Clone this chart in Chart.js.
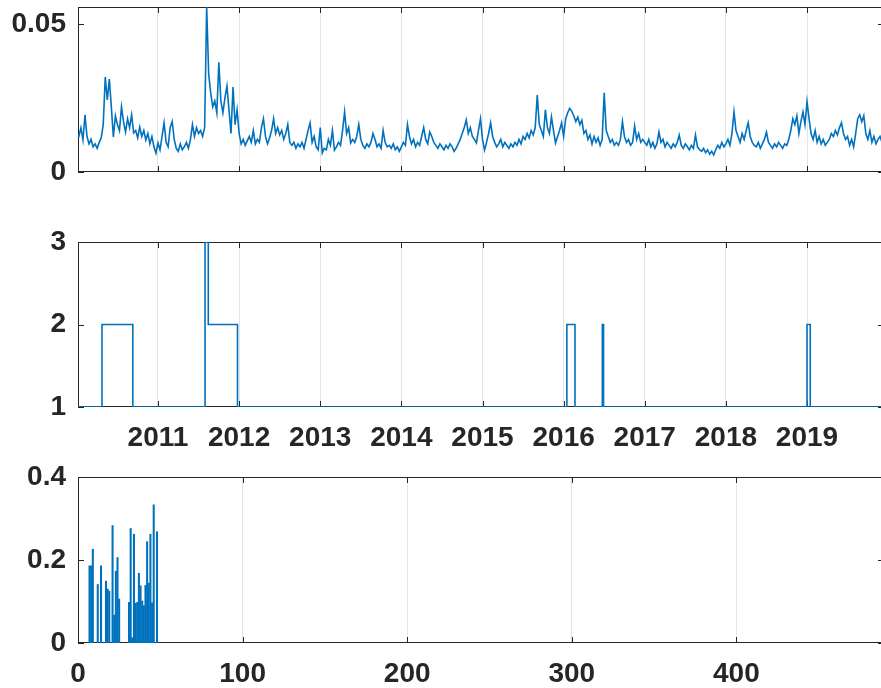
<!DOCTYPE html>
<html>
<head>
<meta charset="utf-8">
<script src="https://cdn.jsdelivr.net/npm/chart.js@4.4.1/dist/chart.umd.min.js"></script>
<style>
  html, body { margin: 0; padding: 0; background: #fff; }
  #wrap { position: relative; width: 881px; height: 688px; overflow: hidden; }
  canvas { position: absolute; left: 0; }
</style>
</head>
<body>
<div id="wrap">
  <canvas id="volChart" width="884" height="190" style="top:0px"></canvas>
  <canvas id="regimeChart" width="884" height="270" style="top:190px"></canvas>
  <canvas id="lagChart" width="884" height="233" style="top:455px"></canvas>
</div>
<script>
// Top panel: one value every 0.025 year
const volStart = 2010.0;
const volStep = 0.025;
const vol2010 = [0.0125,0.0120,0.0149,0.0108,0.0193,0.0120,0.0095,0.0110,0.0085,0.0095,
                 0.0080,0.0100,0.0115,0.0160,0.0321,0.0243,0.0314,0.0220,0.0118,0.0190,
                 0.0160,0.0140,0.0220,0.0170,0.0135,0.0180,0.0150,0.0193,0.0132,0.0140,
                 0.0115,0.0152,0.0120,0.0140,0.0108,0.0130,0.0095,0.0120,0.0085,0.0064];
const vol2011 = [0.0098,0.0075,0.0120,0.0166,0.0100,0.0085,0.0150,0.0170,0.0110,0.0080,
                 0.0070,0.0095,0.0075,0.0085,0.0100,0.0080,0.0110,0.0160,0.0120,0.0150,
                 0.0130,0.0140,0.0120,0.0150,0.0557,0.0330,0.0267,0.0220,0.0240,0.0200,
                 0.0370,0.0240,0.0200,0.0250,0.0290,0.0210,0.0130,0.0287,0.0160,0.0210];
const vol2012 = [0.0130,0.0095,0.0110,0.0090,0.0105,0.0120,0.0100,0.0140,0.0095,0.0110,
                 0.0100,0.0150,0.0180,0.0120,0.0095,0.0115,0.0140,0.0180,0.0130,0.0150,
                 0.0125,0.0140,0.0110,0.0130,0.0160,0.0100,0.0090,0.0100,0.0080,0.0095,
                 0.0085,0.0100,0.0080,0.0110,0.0140,0.0166,0.0100,0.0120,0.0085,0.0075];
const vol2013 = [0.0150,0.0064,0.0080,0.0075,0.0110,0.0090,0.0140,0.0074,0.0085,0.0100,
                 0.0090,0.0140,0.0203,0.0130,0.0150,0.0098,0.0110,0.0100,0.0120,0.0160,
                 0.0110,0.0090,0.0080,0.0095,0.0085,0.0100,0.0130,0.0110,0.0085,0.0095,
                 0.0080,0.0140,0.0100,0.0085,0.0090,0.0080,0.0095,0.0075,0.0085,0.0070];
const vol2014 = [0.0085,0.0100,0.0090,0.0160,0.0120,0.0095,0.0110,0.0085,0.0100,0.0090,
                 0.0120,0.0150,0.0110,0.0095,0.0135,0.0120,0.0100,0.0090,0.0080,0.0095,
                 0.0085,0.0075,0.0090,0.0080,0.0095,0.0085,0.0070,0.0080,0.0095,0.0110,
                 0.0130,0.0150,0.0176,0.0130,0.0150,0.0120,0.0110,0.0098,0.0140,0.0180];
const vol2015 = [0.0110,0.0074,0.0100,0.0130,0.0166,0.0120,0.0100,0.0085,0.0095,0.0110,
                 0.0085,0.0100,0.0090,0.0080,0.0095,0.0085,0.0100,0.0090,0.0110,0.0095,
                 0.0120,0.0110,0.0130,0.0115,0.0140,0.0125,0.0150,0.0260,0.0160,0.0140,
                 0.0120,0.0210,0.0150,0.0130,0.0186,0.0140,0.0098,0.0120,0.0140,0.0166];
const vol2016 = [0.0120,0.0180,0.0200,0.0215,0.0205,0.0190,0.0170,0.0185,0.0160,0.0175,
                 0.0130,0.0140,0.0110,0.0125,0.0095,0.0120,0.0100,0.0115,0.0090,0.0110,
                 0.0267,0.0140,0.0120,0.0100,0.0110,0.0090,0.0100,0.0090,0.0110,0.0170,
                 0.0120,0.0100,0.0110,0.0090,0.0100,0.0155,0.0110,0.0130,0.0100,0.0110];
const vol2017 = [0.0100,0.0090,0.0110,0.0085,0.0100,0.0080,0.0095,0.0135,0.0100,0.0110,
                 0.0085,0.0100,0.0090,0.0080,0.0095,0.0085,0.0100,0.0125,0.0090,0.0080,
                 0.0095,0.0085,0.0075,0.0090,0.0080,0.0125,0.0085,0.0075,0.0070,0.0080,
                 0.0065,0.0075,0.0060,0.0070,0.0058,0.0075,0.0090,0.0080,0.0100,0.0085];
const vol2018 = [0.0095,0.0110,0.0090,0.0130,0.0203,0.0140,0.0120,0.0100,0.0130,0.0110,
                 0.0140,0.0166,0.0120,0.0100,0.0090,0.0085,0.0100,0.0080,0.0095,0.0110,
                 0.0135,0.0100,0.0090,0.0080,0.0095,0.0085,0.0100,0.0090,0.0080,0.0095,
                 0.0090,0.0110,0.0140,0.0180,0.0160,0.0190,0.0130,0.0170,0.0203,0.0160];
const vol2019 = [0.0237,0.0180,0.0130,0.0110,0.0140,0.0100,0.0120,0.0095,0.0110,0.0090,
                 0.0100,0.0110,0.0130,0.0120,0.0140,0.0125,0.0150,0.0166,0.0130,0.0110,
                 0.0120,0.0090,0.0110,0.0085,0.0130,0.0180,0.0193,0.0170,0.0190,0.0130,
                 0.0110,0.0140,0.0100,0.0120,0.0095,0.0110,0.0120,0.0100];
const volTicks = [0, 0.05];

// Middle panel: regime switches (year, new state)
const regimeYears  = [2010.00, 2010.31, 2010.69, 2011.58, 2011.62, 2011.98, 2016.04, 2016.14, 2016.477, 2016.492, 2019.00, 2019.04, 2019.96];
const regimeStates = [1, 2, 1, 3, 2, 1, 2, 1, 2, 1, 2, 1, 1];
const regimeTicks = [1, 2, 3];
const yearTicks = [2011, 2012, 2013, 2014, 2015, 2016, 2017, 2018, 2019];

// Bottom panel: bars
const lagPositions = [7, 8, 9, 12, 14, 17, 18, 19, 21, 22, 23, 24, 25,
                      31, 32, 33, 34, 35, 36, 37, 38, 39, 40, 41, 42, 43, 44, 45, 46, 48];
const lagValues = [0.186, 0.186, 0.226, 0.141, 0.186, 0.149, 0.130, 0.125, 0.283, 0.067, 0.173, 0.206, 0.106,
                   0.098, 0.276, 0.013, 0.262, 0.096, 0.098, 0.168, 0.138, 0.101, 0.090, 0.139, 0.244, 0.144, 0.262, 0.097, 0.333, 0.268];
const lagTicks = [0, 0.2, 0.4];
const lagXTicks = [0, 100, 200, 300, 400];

const BLUE = '#0072BD';
const AXIS = '#262626';
const GRID = '#e4e4e4';
const tickFont = { family: '"Liberation Sans", Arial, Helvetica, sans-serif', size: 28, weight: 'bold' };

// MATLAB-like box with inward tick marks
const matlabAxes = {
    id: 'matlabAxes',
    beforeDatasetsDraw(chart) {
        const { ctx, chartArea: a, scales } = chart;
        const len = 6;
        ctx.save();
        ctx.strokeStyle = AXIS;
        ctx.lineWidth = 1;
        ctx.strokeRect(a.left + 0.5, a.top + 0.5, a.width - 1, a.height - 1);
        ctx.beginPath();
        scales.x.ticks.forEach(t => {
            const px = Math.round(scales.x.getPixelForValue(t.value)) + 0.5;
            ctx.moveTo(px, a.bottom); ctx.lineTo(px, a.bottom - len);
            ctx.moveTo(px, a.top); ctx.lineTo(px, a.top + len);
        });
        scales.y.ticks.forEach(t => {
            const py = Math.round(scales.y.getPixelForValue(t.value)) + 0.5;
            ctx.moveTo(a.left, py); ctx.lineTo(a.left + len, py);
            ctx.moveTo(a.right, py); ctx.lineTo(a.right - len, py);
        });
        ctx.stroke();
        ctx.restore();
    }
};

function fixedTicks(list) {
    return function(scale) {
        scale.ticks = list.map(v => ({ value: v }));
    };
}

function buildOptions(cfg) {
    return {
        responsive: false,
        devicePixelRatio: 1,
        animation: false,
        layout: { padding: { top: cfg.padTop, left: 0, right: 0, bottom: 0 } },
        plugins: { legend: { display: false }, tooltip: { enabled: false } },
        scales: {
            x: {
                type: 'linear',
                min: cfg.xMin,
                max: cfg.xMax,
                offset: false,
                afterBuildTicks: fixedTicks(cfg.xTicks),
                afterFit: function(scale) {
                    scale.height = cfg.xHeight;
                    scale.paddingLeft = 0;
                    scale.paddingRight = 0;
                },
                grid: { display: true, color: GRID, lineWidth: 1, drawTicks: false, offset: false },
                border: { display: false },
                ticks: {
                    display: cfg.showXLabels,
                    autoSkip: false,
                    maxRotation: 0,
                    padding: 14,
                    color: AXIS,
                    font: tickFont,
                    callback: v => String(v)
                }
            },
            y: {
                min: cfg.yMin,
                max: cfg.yMax,
                afterBuildTicks: fixedTicks(cfg.yTicks),
                afterFit: function(scale) {
                    scale.width = 78;
                    scale.paddingTop = 0;
                    scale.paddingBottom = 0;
                },
                grid: { display: false, drawTicks: false },
                border: { display: false },
                ticks: {
                    padding: 12,
                    color: AXIS,
                    font: tickFont,
                    callback: v => String(v)
                }
            }
        }
    };
}

function createVolChart() {
    const ctx = document.getElementById('volChart');
    const volValues = [].concat(vol2010, vol2011, vol2012, vol2013, vol2014,
                                vol2015, vol2016, vol2017, vol2018, vol2019);
    new Chart(ctx, {
        type: 'line',
        data: {
            datasets: [{
                data: volValues.map((v, i) => ({ x: volStart + i * volStep, y: v })),
                borderColor: BLUE,
                borderWidth: 1.6,
                pointRadius: 0,
                tension: 0,
                fill: false
            }]
        },
        options: buildOptions({
            padTop: 7, xHeight: 18, showXLabels: false,
            xMin: 2010.014, xMax: 2019.949, xTicks: yearTicks,
            yMin: 0, yMax: 0.0557, yTicks: volTicks
        }),
        plugins: [matlabAxes]
    });
}

function createRegimeChart() {
    const ctx = document.getElementById('regimeChart');
    new Chart(ctx, {
        type: 'line',
        data: {
            datasets: [{
                data: regimeYears.map((yr, i) => ({ x: yr, y: regimeStates[i] })),
                borderColor: BLUE,
                borderWidth: 1.6,
                pointRadius: 0,
                stepped: true,
                fill: false
            }]
        },
        options: buildOptions({
            padTop: 52, xHeight: 53, showXLabels: true,
            xMin: 2010.014, xMax: 2019.949, xTicks: yearTicks,
            yMin: 1, yMax: 3, yTicks: regimeTicks
        }),
        plugins: [matlabAxes]
    });
}

function createLagChart() {
    const ctx = document.getElementById('lagChart');
    new Chart(ctx, {
        type: 'bar',
        data: {
            datasets: [{
                data: lagPositions.map((p, i) => ({ x: p, y: lagValues[i] })),
                backgroundColor: BLUE,
                borderWidth: 0,
                barThickness: 1.4
            }]
        },
        options: buildOptions({
            padTop: 22, xHeight: 45, showXLabels: true,
            xMin: 0, xMax: 489.7, xTicks: lagXTicks,
            yMin: 0, yMax: 0.4, yTicks: lagTicks
        }),
        plugins: [matlabAxes]
    });
}

createVolChart();
createRegimeChart();
createLagChart();
</script>
</body>
</html>
